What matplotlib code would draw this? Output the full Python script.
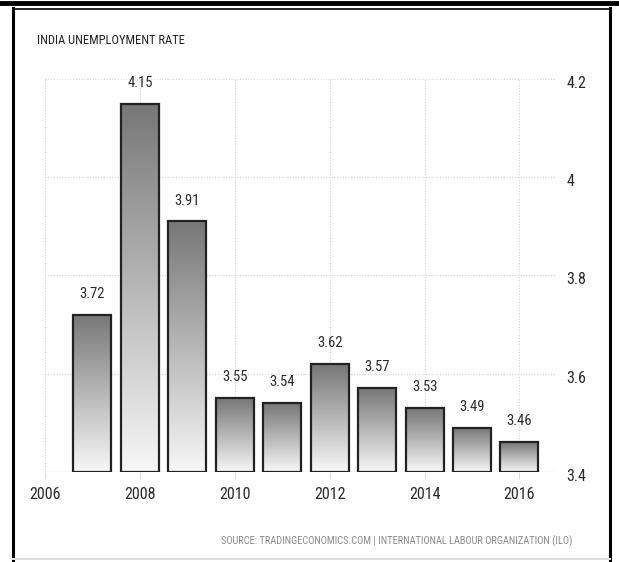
import numpy as np
from matplotlib import pyplot as plt
from matplotlib.patches import Rectangle
from matplotlib.lines import Line2D
from matplotlib.colors import LinearSegmentedColormap
from matplotlib.transforms import ScaledTranslation

plt.rcParams['font.family'] = ['Roboto Condensed', 'DejaVu Sans']

#data
years = [2007, 2008, 2009, 2010, 2011, 2012, 2013, 2014, 2015, 2016]
rates = [3.72, 4.15, 3.91, 3.55, 3.54, 3.62, 3.57, 3.53, 3.49, 3.46]
x_ticks = [2006, 2008, 2010, 2012, 2014, 2016]
y_ticks = [3.4, 3.6, 3.8, 4.0, 4.2]
y_tick_labels = ['3.4', '3.6', '3.8', '4', '4.2']

fig = plt.figure(figsize=(6.19, 5.62), dpi=100)
ax = fig.add_axes([0.0727, 0.1607, 0.824, 0.6988])

base = 3.4
ax.set_xlim(2006, 2016.75)
ax.set_ylim(base, 4.2)

#bars with a vertical grey gradient
shade = LinearSegmentedColormap.from_list('shade', ['#f7f7f7', '#777777'])
grad = np.linspace(0, 1, 256).reshape(-1, 1)
width = 0.8
for yr, val in zip(years, rates):
    rect = Rectangle((yr - width / 2, base), width, val - base,
                     facecolor='none', edgecolor='#222222', lw=1.6, zorder=3)
    ax.add_patch(rect)
    img = ax.imshow(grad, cmap=shade, origin='lower', aspect='auto',
                    extent=(yr - width / 2, yr + width / 2, base, val), zorder=2)
    img.set_clip_path(rect)
    ax.text(yr, val + 0.028, f'{val:.2f}', ha='center', va='bottom',
            fontsize=10.5, color='#2a2a2a', clip_on=False)

#grid and axes
ax.set_xticks(x_ticks)
ax.set_yticks(y_ticks)
ax.set_yticklabels(y_tick_labels)
ax.grid(True, linestyle=(0, (1, 1.5)), color='#d4d4d4', lw=0.8, zorder=0)
for s in ax.spines.values():
    s.set_visible(False)
ax.axhline(base, color='#cccccc', linestyle=(0, (1, 1.5)), lw=1.0, zorder=1)
ax.yaxis.tick_right()
ax.tick_params(axis='y', length=0, pad=8, labelsize=11.5, labelcolor='#2a2a2a')
ax.tick_params(axis='x', length=5, color='#dddddd', pad=6, labelsize=11.5,
               labelcolor='#2a2a2a')
shift = ScaledTranslation(0, -3 / 100, fig.dpi_scale_trans)
for lbl in ax.get_yticklabels():
    lbl.set_transform(lbl.get_transform() + shift)

#titles
fig.text(37 / 619, 1 - 41 / 562, 'INDIA UNEMPLOYMENT RATE', fontsize=9,
         color='#222222', va='center', ha='left')
fig.text(572 / 619, 1 - 541 / 562,
         'SOURCE: TRADINGECONOMICS.COM | INTERNATIONAL LABOUR ORGANIZATION (ILO)',
         fontsize=7.5, color='#8a8a8a', va='center', ha='right')

#page frame
def px_line(x0, y0, x1, y1, **kw):
    fig.add_artist(Line2D([x0 / 619, x1 / 619], [1 - y0 / 562, 1 - y1 / 562],
                          transform=fig.transFigure, **kw))

px_line(0, 3, 619, 3, color='black', lw=3.5)
px_line(13, 8, 13, 562, color='black', lw=2.2)
px_line(610, 8, 610, 562, color='black', lw=2.2)
px_line(13, 9, 610, 9, color='black', lw=1.2)
px_line(13, 559, 610, 559, color='#dddddd', lw=1.5)

fig.savefig('out.png', dpi=100)
